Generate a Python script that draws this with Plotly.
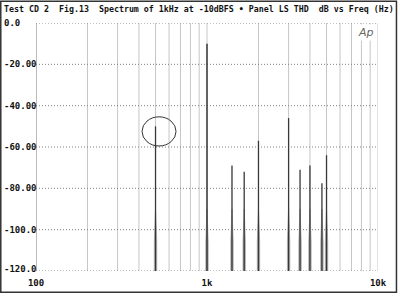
import plotly.graph_objects as go

# Data
peak_freqs = [500, 1000, 1400, 1650, 2000, 3000, 3500, 4000, 4700, 5000]
peak_levels = [-50, -10, -69, -72, -57, -46, -71, -69, -77.5, -64]
floor_db = -120.0

y_tick_vals = [0, -20, -40, -60, -80, -100, -120]
y_tick_text = ["0.0", "-20.00", "-40.00", "-60.00", "-80.00", "-100.0", "-120.0"]
x_tick_vals = [100, 1000, 10000]
x_tick_text = ["100", "1k", "10k"]
grid_freqs = [m * d for d in (100, 1000) for m in range(1, 10)] + [10000]

title = "Test CD 2  Fig.13  Spectrum of 1kHz at -10dBFS \u2022 Panel LS THD  dB vs Freq (Hz)"
FONT = "DejaVu Sans Mono"

fig = go.Figure()

half = 10 ** (1.2 / 171)  # base half-width ratio
for f, lv in zip(peak_freqs, peak_levels):
    # light grey broadened base
    fig.add_trace(go.Scatter(
        x=[f / half, f / half, f, f * half, f * half],
        y=[floor_db, floor_db + 14, floor_db + 30, floor_db + 14, floor_db],
        mode="lines", fill="toself", fillcolor="#a8a8a8",
        line=dict(color="#a8a8a8", width=0.8), hoverinfo="skip", showlegend=False))
    # dark spectral line
    fig.add_trace(go.Scatter(
        x=[f, f], y=[floor_db, lv],
        mode="lines", line=dict(color="#383838", width=1.5 if f == 1000 else 1.3),
        hoverinfo="skip", showlegend=False))

shapes = []
for i, gf in enumerate(grid_freqs):
    shapes.append(dict(type="line", xref="x", yref="paper", x0=gf, x1=gf, y0=0, y1=1,
                       line=dict(color="#aaaaaa" if i == 0 else "#c6c6c6",
                                 width=1.6 if i == 0 else 1), layer="below"))
for yv in y_tick_vals:
    shapes.append(dict(type="line", xref="paper", yref="y", x0=0, x1=1, y0=yv, y1=yv,
                       line=dict(color="#808080", width=1, dash="1px,2px"), layer="below"))
# circle around the 500 Hz component
cf, cl = peak_freqs[0], peak_levels[0]
shapes.append(dict(type="circle", xref="x", yref="y",
                   x0=cf * 0.834, x1=cf * 1.318,
                   y0=cl - 9.5, y1=cl + 4.6,
                   line=dict(color="#333333", width=1)))
# outer frame
shapes.append(dict(type="rect", xref="paper", yref="paper",
                   x0=-0.103, x1=1.054, y0=-0.086, y1=1.088,
                   line=dict(color="#333333", width=1.5)))

annotations = [dict(text=title, xref="paper", yref="paper", x=-0.1, y=1.085,
                    xanchor="left", yanchor="top", showarrow=False,
                    font=dict(family=FONT, size=8.3, color="#111111", weight="bold"))]
for v, t in zip(y_tick_vals, y_tick_text):
    annotations.append(dict(text=t, xref="paper", yref="y", x=-0.1, y=v + (1.2 if v == -120 else 0),
                            xanchor="left", yanchor="middle", showarrow=False,
                            font=dict(family=FONT, size=9, color="#111111", weight="bold")))
annotations.append(dict(text="<i>Ap</i>", xref="paper", yref="paper", x=0.995, y=0.995,
                        xanchor="right", yanchor="top", showarrow=False, bgcolor="white",
                        font=dict(family="DejaVu Sans", size=11, color="#666666")))

fig.update_layout(
    width=400, height=300,
    margin=dict(l=36, r=22, t=23, b=23),
    paper_bgcolor="white", plot_bgcolor="white",
    shapes=shapes, annotations=annotations,
    xaxis=dict(type="log", range=[2, 4], tickvals=x_tick_vals, ticktext=x_tick_text,
               showgrid=False, zeroline=False, showline=False, ticks="",
               ticklabelstandoff=5,
               tickfont=dict(family=FONT, size=9, color="#111111", weight="bold")),
    yaxis=dict(range=[-120, 0], showgrid=False, zeroline=False, showline=False,
               showticklabels=False, ticks=""),
)

fig.write_html("out.html")
